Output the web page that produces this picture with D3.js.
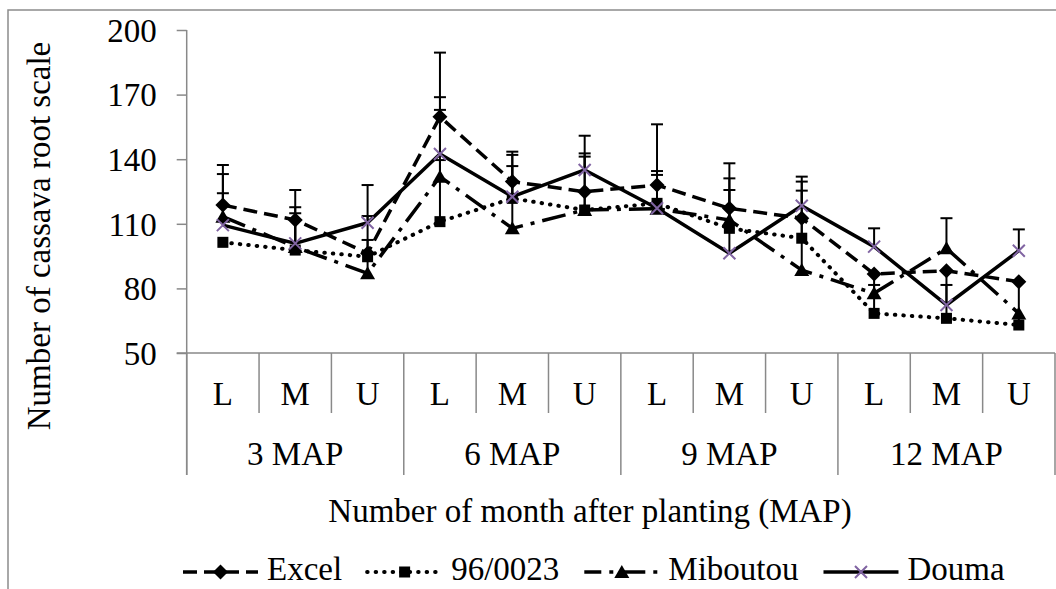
<!DOCTYPE html>
<html>
<head>
<meta charset="utf-8">
<script src="https://cdn.jsdelivr.net/npm/d3@7"></script>
<style>
  body { margin: 0; background: #fff; }
  svg { display: block; }
</style>
</head>
<body>
<svg id="chart" width="1056" height="589"></svg>
<script>
// data
const groups = ["3 MAP", "6 MAP", "9 MAP", "12 MAP"];
const parts = ["L", "M", "U"];
const seriesNames = ["Excel", "96/0023", "Miboutou", "Douma"];
const yTicks = [50, 80, 110, 140, 170, 200];

const excel    = [118.7, 111.8, 96.3, 159.7, 129.6, 124.9, 128.0, 117.2, 112.6, 86.7, 88.2, 83.1];
const line9623 = [101.4, 97.8, 94.7, 111.0, 121.8, 116.4, 119.5, 107.9, 103.3, 68.4, 66.1, 63.0];
const miboutou = [113.3, 99.2, 87.0, 131.9, 107.9, 116.4, 117.0, 111.8, 88.5, 77.7, 98.6, 68.4];
const douma    = [109.4, 100.9, 110.5, 142.4, 122.6, 135.0, 117.2, 96.3, 118.4, 99.4, 72.3, 97.5];

// upper error bars (0 = none)
const excelErr    = [18.6, 13.9, 17.3, 29.8, 13.9, 17.8, 28.2, 20.9, 17.0, 0, 0, 0];
const line9623Err = [0, 14.0, 7.8, 28.6, 15.0, 24.8, 13.2, 17.8, 22.1, 18.3, 22.1, 20.1];
const miboutouErr = [19.8, 18.5, 9.3, 31.0, 21.7, 8.5, 11.0, 19.3, 24.1, 3.9, 14.0, 0];
const doumaErr    = [14.8, 14.0, 17.5, 26.4, 19.4, 15.9, 17.3, 20.9, 13.5, 8.5, 9.3, 9.9];

const values = [excel, line9623, miboutou, douma];
const errors = [excelErr, line9623Err, miboutouErr, doumaErr];

const styles = [
  { dash: "14,7", cap: "butt", width: 3.5, marker: "diamond", legendOffset: 0 },
  { dash: "0.5,8", cap: "round", width: 4, marker: "square", legendOffset: 0 },
  { dash: "24,8,4,8", cap: "butt", width: 3.5, marker: "triangle", legendOffset: 7 },
  { dash: null, cap: "butt", width: 3.5, marker: "cross", legendOffset: 0 }
];

const FONT = 33;
const axisColor = "#898989";

const svg = d3.select("#chart");

function label(sel) {
  return sel.attr("font-family", "Liberation Serif")
    .style("font-family", '"Liberation Serif"')
    .style("font-size", FONT + "px")
    .attr("fill", "#000");
}

// outer border (chart area, clipped at right/bottom)
svg.append("rect")
  .attr("x", 8).attr("y", 10)
  .attr("width", 1100).attr("height", 700)
  .attr("fill", "none")
  .attr("stroke", "#8c8c8c")
  .attr("stroke-width", 1.5);

const cats = groups.flatMap((g, gi) => parts.map((p, pi) => ({ g, p, i: gi * 3 + pi })));

const x = d3.scaleBand()
  .domain(d3.range(cats.length))
  .range([186.7, 1055])
  .padding(0);

const y = d3.scaleLinear()
  .domain([50, 200])
  .range([353, 30]);

const cx = (i) => x(i) + x.bandwidth() / 2;

// y axis
const yAxis = svg.append("g")
  .attr("transform", `translate(${x.range()[0]},0)`)
  .call(d3.axisLeft(y).tickValues(yTicks).tickSize(10).tickPadding(20).tickSizeOuter(0));
yAxis.attr("font-family", null);
yAxis.select(".domain").attr("stroke", axisColor).attr("stroke-width", 1.5)
  .attr("d", `M0,${y(200)}V475`);
yAxis.selectAll(".tick line").attr("stroke", axisColor).attr("stroke-width", 1.5);
label(yAxis.selectAll(".tick text")).attr("dy", "0.34em");

// category axis (two levels)
const xa = svg.append("g");
xa.append("line")
  .attr("x1", x.range()[0] - 10).attr("x2", x.range()[1])
  .attr("y1", y(50)).attr("y2", y(50))
  .attr("stroke", axisColor).attr("stroke-width", 1.5);

xa.selectAll("line.sep")
  .data(d3.range(cats.length + 1))
  .join("line")
  .attr("class", "sep")
  .attr("x1", (i) => i < cats.length ? x(i) : x.range()[1])
  .attr("x2", (i) => i < cats.length ? x(i) : x.range()[1])
  .attr("y1", y(50))
  .attr("y2", (i) => i % 3 === 0 ? 475 : 413)
  .attr("stroke", axisColor).attr("stroke-width", 1.5);

label(xa.selectAll("text.part")
  .data(cats)
  .join("text")
  .attr("class", "part")
  .attr("x", (d) => cx(d.i))
  .attr("y", 405)
  .attr("text-anchor", "middle"))
  .text((d) => d.p);

label(xa.selectAll("text.group")
  .data(groups)
  .join("text")
  .attr("class", "group")
  .attr("x", (d, gi) => (x(gi * 3) + x(gi * 3 + 2) + x.bandwidth()) / 2)
  .attr("y", 465)
  .attr("text-anchor", "middle"))
  .text((d) => d);

// axis titles
label(svg.append("text")
  .attr("x", 590).attr("y", 522)
  .attr("text-anchor", "middle"))
  .text("Number of month after planting (MAP)");

label(svg.append("text")
  .attr("transform", "translate(50,236) rotate(-90)")
  .attr("text-anchor", "middle"))
  .text("Number of cassava root scale");

// marker shapes
function drawMarker(g, type, px, py) {
  if (type === "diamond") {
    g.append("path").attr("d", `M${px},${py - 7.5}L${px + 7.5},${py}L${px},${py + 7.5}L${px - 7.5},${py}Z`)
      .attr("fill", "#000");
  } else if (type === "square") {
    g.append("rect").attr("x", px - 5.5).attr("y", py - 5.5).attr("width", 11).attr("height", 11)
      .attr("fill", "#000");
  } else if (type === "triangle") {
    g.append("path").attr("d", `M${px},${py - 7}L${px + 7.5},${py + 6}L${px - 7.5},${py + 6}Z`)
      .attr("fill", "#000");
  } else {
    g.append("path").attr("d", `M${px - 6},${py - 6}L${px + 6},${py + 6}M${px - 6},${py + 6}L${px + 6},${py - 6}`)
      .attr("stroke", "#8064A2").attr("stroke-width", 2).attr("fill", "none");
  }
}

// error bars
const eb = svg.append("g").attr("stroke", "#000").attr("stroke-width", 2);
values.forEach((vals, si) => {
  vals.forEach((v, i) => {
    const e = errors[si][i];
    if (!e) return;
    eb.append("line").attr("x1", cx(i)).attr("x2", cx(i)).attr("y1", y(v)).attr("y2", y(v + e));
    eb.append("line").attr("x1", cx(i) - 6).attr("x2", cx(i) + 6).attr("y1", y(v + e)).attr("y2", y(v + e));
  });
});

// lines
const lineGen = d3.line().x((d, i) => cx(i)).y((d) => y(d));
values.forEach((vals, si) => {
  const st = styles[si];
  svg.append("path")
    .datum(vals)
    .attr("d", lineGen)
    .attr("fill", "none")
    .attr("stroke", "#000")
    .attr("stroke-width", st.width)
    .attr("stroke-linecap", st.cap)
    .attr("stroke-linejoin", "round")
    .attr("stroke-dasharray", st.dash);
});

// markers
values.forEach((vals, si) => {
  const g = svg.append("g");
  vals.forEach((v, i) => drawMarker(g, styles[si].marker, cx(i), y(v)));
});

// legend
const legend = svg.append("g").attr("transform", "translate(183,572)");
let lx = 0;
seriesNames.forEach((name, si) => {
  const st = styles[si];
  const g = legend.append("g").attr("transform", `translate(${lx},0)`);
  g.append("line")
    .attr("x1", 0).attr("x2", 75).attr("y1", 0).attr("y2", 0)
    .attr("stroke", "#000")
    .attr("stroke-width", st.width)
    .attr("stroke-linecap", st.cap)
    .attr("stroke-dasharray", st.dash)
    .attr("stroke-dashoffset", st.legendOffset);
  drawMarker(g, st.marker, 37.5, 0);
  const t = label(g.append("text").attr("x", 84).attr("y", 8)).text(name);
  lx += 84 + t.node().getComputedTextLength() + 25;
});
</script>
</body>
</html>
